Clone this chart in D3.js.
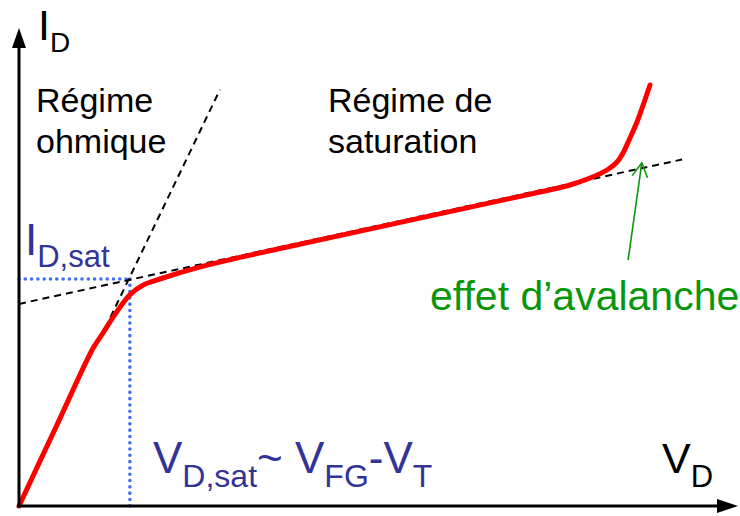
<!DOCTYPE html>
<html>
<head>
<meta charset="utf-8">
<script src="https://cdn.jsdelivr.net/npm/d3@7"></script>
<style>
  body { margin: 0; background: #fff; }
  svg { display: block; }
  text { font-family: "Liberation Sans", Arial, sans-serif; }
</style>
</head>
<body>
<svg id="chart" width="740" height="516"></svg>
<script>
// drain current curve I_D(V_D) (arbitrary units)
var curveV = [0, 0.514, 1.03, 1.167, 1.31, 1.54, 1.72, 2.0, 2.47, 2.93, 3.58, 7.236, 7.653, 7.931, 8.167, 8.306, 8.389, 8.486, 8.583, 8.764];
var curveI = [0, 1.646, 3.29, 3.604, 3.94, 4.40, 4.60, 4.75, 4.96, 5.13, 5.35, 6.542, 6.688, 6.833, 7.0, 7.167, 7.354, 7.667, 8.0, 8.771];

// tangent lines (dashed)
var satTangentV = [0, 9.21];
var satTangentI = [4.21, 7.22];
var ohmTangentV = [1.125, 2.79];
var ohmTangentI = [3.48, 8.67];

// saturation point (blue dotted guides)
var vSat = 1.54;
var iSat = 4.73;

// avalanche arrow: tail, tip
var arrowV = [8.46, 8.65];
var arrowI = [5.125, 7.15];

var svg = d3.select("#chart");

var x = d3.scaleLinear().domain([0, 10]).range([19, 739]);
var y = d3.scaleLinear().domain([0, 10]).range([506, 26]);

var line = d3.line()
    .x(function(d) { return x(d[0]); })
    .y(function(d) { return y(d[1]); });

var smooth = d3.line()
    .x(function(d) { return x(d[0]); })
    .y(function(d) { return y(d[1]); })
    .curve(d3.curveCatmullRom.alpha(0.5));

// blue dotted guides
[[0, iSat, vSat, iSat], [vSat, iSat, vSat, 0]].forEach(function(g) {
    svg.append("line")
        .attr("x1", x(g[0])).attr("y1", y(g[1]))
        .attr("x2", x(g[2])).attr("y2", y(g[3]))
        .style("stroke", "#3f6ff2")
        .style("stroke-width", 3.6)
        .style("stroke-linecap", "round")
        .style("stroke-dasharray", "0,6.3");
});

// dashed tangents
[[satTangentV, satTangentI], [ohmTangentV, ohmTangentI]].forEach(function(t) {
    svg.append("path")
        .attr("d", line(d3.zip(t[0], t[1])))
        .attr("fill", "none")
        .style("stroke", "#000")
        .style("stroke-width", 2)
        .style("stroke-dasharray", "7,5");
});

// red I-V curve
svg.append("path")
    .attr("d", smooth(d3.zip(curveV, curveI)))
    .attr("fill", "none")
    .style("stroke", "#ff0000")
    .style("stroke-width", 5)
    .style("stroke-linecap", "round")
    .style("stroke-linejoin", "round");

// axes with arrow heads
svg.append("line")
    .attr("x1", x(0)).attr("y1", y(0))
    .attr("x2", x(0)).attr("y2", y(0) - 460)
    .style("stroke", "#000").style("stroke-width", 3);
svg.append("path")
    .attr("d", "M" + (x(0) - 7) + "," + (y(0) - 458) + "L" + x(0) + "," + (y(0) - 478) + "L" + (x(0) + 7) + "," + (y(0) - 458) + "Z")
    .attr("fill", "#000");

svg.append("line")
    .attr("x1", x(0) - 2).attr("y1", y(0))
    .attr("x2", x(0) + 700).attr("y2", y(0))
    .style("stroke", "#000").style("stroke-width", 3);
svg.append("path")
    .attr("d", "M" + (x(0) + 698) + "," + (y(0) - 7) + "L" + (x(0) + 719) + "," + y(0) + "L" + (x(0) + 698) + "," + (y(0) + 7) + "Z")
    .attr("fill", "#000");

// green avalanche arrow
var tail = [x(arrowV[0]), y(arrowI[0])];
var tip = [x(arrowV[1]), y(arrowI[1])];
var ang = Math.atan2(tip[1] - tail[1], tip[0] - tail[0]);
var headLen = 16, headAng = 0.5;
svg.append("line")
    .attr("x1", tail[0]).attr("y1", tail[1])
    .attr("x2", tip[0]).attr("y2", tip[1])
    .style("stroke", "#0a960a").style("stroke-width", 1.6);
svg.append("path")
    .attr("d", "M" + (tip[0] - headLen * Math.cos(ang - headAng)) + "," + (tip[1] - headLen * Math.sin(ang - headAng)) +
        "L" + tip[0] + "," + tip[1] +
        "L" + (tip[0] - headLen * Math.cos(ang + headAng)) + "," + (tip[1] - headLen * Math.sin(ang + headAng)))
    .attr("fill", "none")
    .style("stroke", "#0a960a").style("stroke-width", 1.6);

// labels with subscripts
function subLabel(px, py, parts, color, big, small, shift) {
    var t = svg.append("text")
        .attr("x", px).attr("y", py)
        .attr("fill", color)
        .style("font-size", big + "px");
    var down = false;
    parts.forEach(function(p) {
        var isSub = p[1];
        var dy = 0;
        if (isSub && !down) { dy = shift; down = true; }
        else if (!isSub && down) { dy = -shift; down = false; }
        t.append("tspan")
            .attr("dy", dy)
            .style("font-size", (isSub ? small : big) + "px")
            .text(p[0]);
    });
    return t;
}

subLabel(38, 40, [["I", false], ["D", true]], "#000", 43, 28, 12);
subLabel(662, 473, [["V", false], ["D", true]], "#000", 43, 31, 14);
subLabel(25, 255, [["I", false], ["D,sat", true]], "#333399", 44, 31, 12);
subLabel(153, 473, [["V", false], ["D,sat", true], ["~ V", false], ["FG", true], ["-V", false], ["T", true]], "#333399", 44, 32, 14);

svg.append("text").attr("x", 36).attr("y", 112).style("font-size", "34px").text("Régime");
svg.append("text").attr("x", 36).attr("y", 153).style("font-size", "34px").text("ohmique");
svg.append("text").attr("x", 328).attr("y", 112).style("font-size", "34px").text("Régime de");
svg.append("text").attr("x", 328).attr("y", 153).style("font-size", "34px").text("saturation");

svg.append("text").attr("x", 430).attr("y", 310)
    .attr("fill", "#0a960a")
    .style("font-size", "41px")
    .text("effet d\u2019avalanche");
</script>
</body>
</html>
